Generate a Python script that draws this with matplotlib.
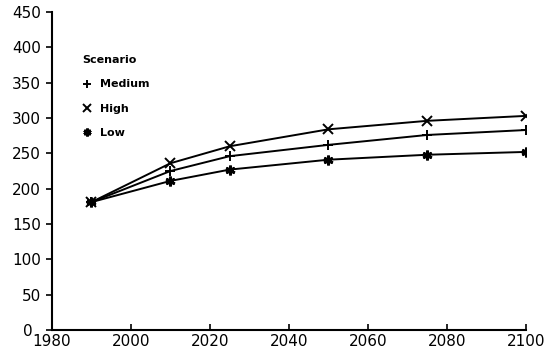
import matplotlib
matplotlib.use("Agg")
import matplotlib.pyplot as plt
import matplotlib.transforms as mtransforms

years = [1990, 2010, 2025, 2050, 2075, 2100]
medium = [181, 225, 246, 262, 276, 283]
high = [181, 236, 260, 284, 296, 303]
low = [181, 211, 227, 241, 248, 252]
xticks = [1980, 2000, 2020, 2040, 2060, 2080, 2100]
yticks = [0, 50, 100, 150, 200, 250, 300, 350, 400, 450]

plt.rcParams['font.family'] = ['DejaVu Sans']
fig = plt.figure(figsize=(5.5, 3.58), dpi=100)
ax = fig.add_axes([52/550, 1-330/358, (526-52)/550, (330-12)/358])

ax.plot(years, medium, color='black', lw=1.4, marker='+', ms=7, mew=1.4, label='Medium')
ax.plot(years, high, color='black', lw=1.4, marker='x', ms=7, mew=1.4, label='High')
ax.plot(years, low, color='black', lw=1.4, marker=(6, 2, 0), ms=7, mew=2.0, label='Low')

ax.set_xlim(1980, 2100)
ax.set_ylim(0, 450)
ax.set_xticks(xticks)
ax.set_yticks(yticks)
ax.spines['top'].set_visible(False)
ax.spines['right'].set_visible(False)
ax.spines['left'].set_linewidth(1.5)
ax.spines['bottom'].set_linewidth(1.5)
ax.tick_params(axis='y', direction='out', length=4, width=1.2, labelsize=11, pad=4)
ax.tick_params(axis='x', direction='in', length=4, width=1.2, labelsize=11, pad=3)
shift = mtransforms.ScaledTranslation(-8/100, 0, fig.dpi_scale_trans)
for lbl in ax.get_yticklabels():
    if lbl.get_text() == '0':
        lbl.set_transform(lbl.get_transform() + shift)

leg = ax.legend(title='Scenario', loc='upper left', bbox_to_anchor=(72/550, 1-45/358),
                bbox_transform=fig.transFigure, frameon=False,
                prop={'size': 8, 'weight': 'bold'}, handlelength=0.9, handletextpad=0.7,
                labelspacing=1.3, markerscale=0.8)
leg.get_title().set_fontweight('bold')
leg.get_title().set_fontsize(8)
leg._legend_box.align = 'left'
for line in leg.get_lines():
    line.set_linestyle('none')

fig.savefig('out.png', dpi=100, facecolor='white')
